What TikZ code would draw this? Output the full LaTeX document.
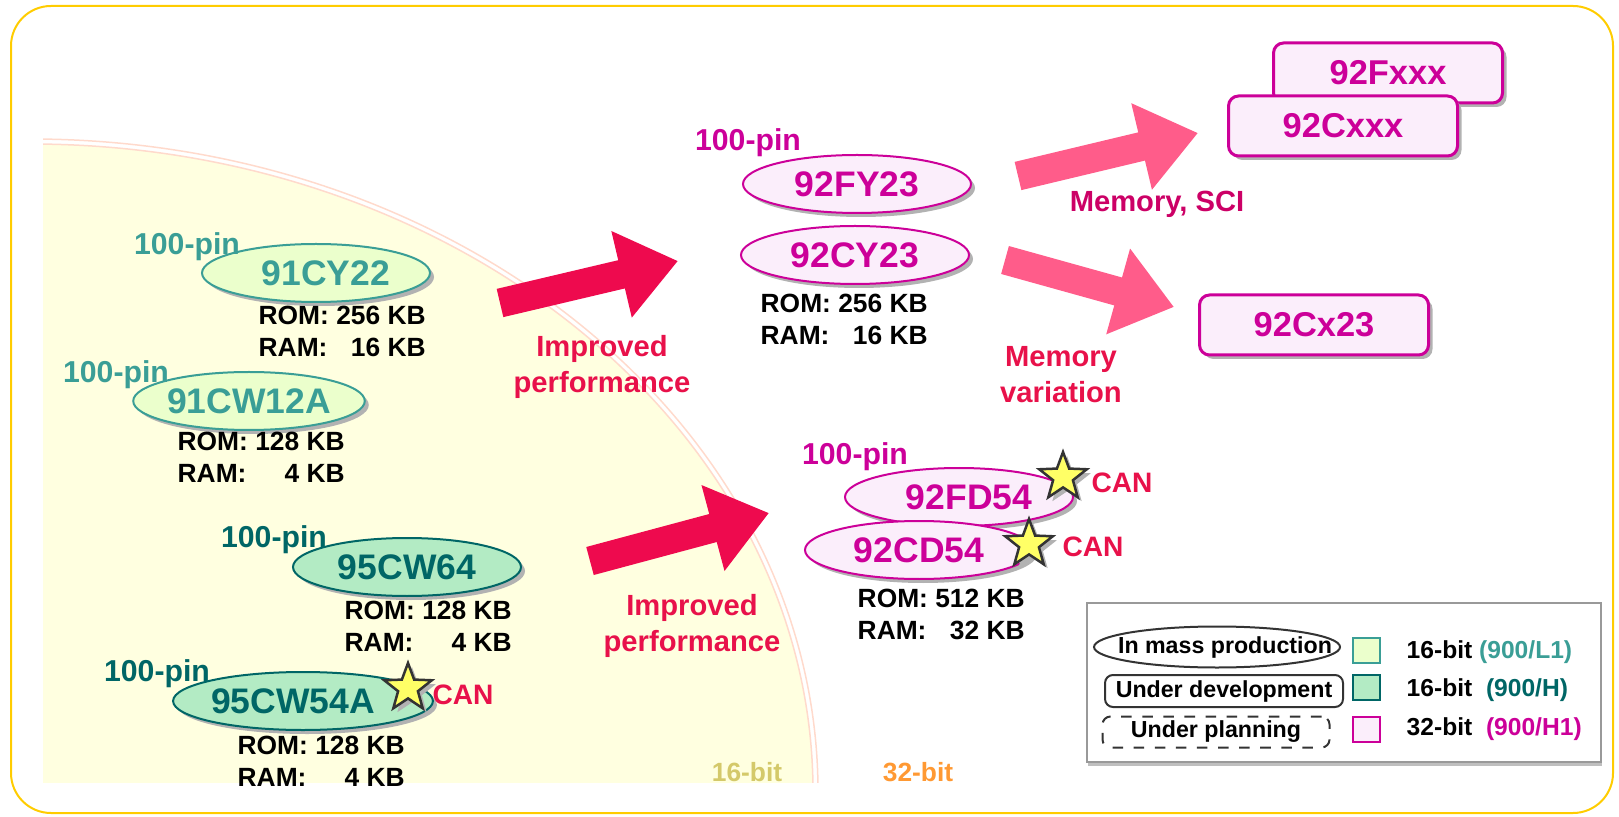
\documentclass[tikz,border=0pt]{standalone}
\usepackage{fontspec}
\setmainfont{Liberation Sans}
\usetikzlibrary{shapes.geometric,arrows.meta,shadows}

\definecolor{tealL}{HTML}{3A9E96}
\definecolor{tealH}{HTML}{006666}
\definecolor{magH}{HTML}{CC0099}
\definecolor{crim}{HTML}{E8114A}
\definecolor{arrowred}{HTML}{EE0A4E}
\definecolor{arrowpink}{HTML}{FF5C8A}
\definecolor{memmag}{HTML}{CC0066}
\definecolor{fillL}{HTML}{EBFFCC}
\definecolor{fillH}{HTML}{B3EBC4}
\definecolor{fillHone}{HTML}{FBEEFB}
\definecolor{area16}{HTML}{FFFFE0}
\definecolor{arcline}{HTML}{FFDACC}
\definecolor{frameyel}{HTML}{FFCC00}
\definecolor{bitsixteen}{HTML}{D4C96A}
\definecolor{bitthirtytwo}{HTML}{FF9933}
\definecolor{starfill}{HTML}{FFFF66}

\tikzset{
  shade off/.style={drop shadow={shadow xshift=0.4mm, shadow yshift=-0.4mm, fill=black!30, opacity=1}},
  chip/.style={ellipse, inner sep=0pt, minimum width=22.8mm, minimum height=5.8mm, line width=0.2mm,
    font=\fontsize{10.1}{12}\selectfont\bfseries, shade off},
  chipL/.style={chip, draw=tealL, fill=fillL, text=tealL},
  chipH/.style={chip, draw=tealH, fill=fillH, text=tealH},
  chipHone/.style={chip, draw=magH, fill=fillHone, text=magH},
  planbox/.style={rectangle, rounded corners=1mm, inner sep=0pt, minimum width=22.9mm, minimum height=6mm,
    draw=magH, line width=0.3mm, fill=fillHone, text=magH, font=\fontsize{9.8}{12}\selectfont\bfseries, shade off},
  pins/.style={inner sep=0pt, font=\fontsize{8.6}{10}\selectfont\bfseries},
  memo/.style={anchor=west, inner sep=0pt, font=\fontsize{7.5}{9}\selectfont\bfseries},
  note/.style={inner sep=0pt, align=center, text=crim, font=\fontsize{8.3}{10.2}\selectfont\bfseries},
  canstar/.style={star, star points=5, star point ratio=2.4, minimum size=5mm, inner sep=0pt,
    fill=starfill, draw=black!80, line width=0.25mm, shade off},
  cantext/.style={inner sep=0pt, text=crim, font=\fontsize{8}{10}\selectfont\bfseries},
  bigarrow/.style={line width=2.9mm, -{Triangle[length=5.8mm,width=8.5mm]}},
  legtext/.style={inner sep=0pt, font=\fontsize{6.6}{8}\selectfont\bfseries},
  legsq/.style={rectangle, inner sep=0pt, minimum width=2.7mm, minimum height=2.5mm, line width=0.2mm}
}

\newcommand{\memrows}[2]{\begin{tabular}{@{}l@{\ }r@{}}ROM: & #1\\RAM: & #2\end{tabular}}

\begin{document}
\begin{tikzpicture}[x=0.1mm, y=-0.1mm]
  \useasboundingbox (0,0) rectangle (1619,817);

  % 16-bit area
  \begin{scope}
    \clip (43,120) rectangle (830,782);
    \fill [area16] (30,792) ellipse [x radius=783, y radius=648];
    \draw [arcline, line width=0.15mm] (30,792) ellipse [x radius=783, y radius=648];
    \draw [arcline, line width=0.15mm] (30,792) ellipse [x radius=788, y radius=653];
  \end{scope}
  \node [inner sep=0pt, text=bitsixteen, font=\fontsize{7.5}{9}\selectfont\bfseries] (lbl16) at (747,772) {16-bit};
  \node [inner sep=0pt, text=bitthirtytwo, font=\fontsize{7.5}{9}\selectfont\bfseries] (lbl32) at (918,772) {32-bit};

  % outer frame
  \draw [frameyel, line width=0.2mm, rounded corners=4mm] (11,6) rectangle (1613,813);

  % arrows
  \coordinate (a1s) at (500,303);
  \coordinate (a1e) at (678,261);
  \coordinate (a2s) at (590,561);
  \coordinate (a2e) at (769,513);
  \coordinate (a3s) at (1018,176);
  \coordinate (a3e) at (1198,133);
  \coordinate (a4s) at (1005,260);
  \coordinate (a4e) at (1174,307);
  \draw [bigarrow, arrowred] (a1s) -- (a1e);
  \draw [bigarrow, arrowred] (a2s) -- (a2e);
  \draw [bigarrow, arrowpink] (a3s) -- (a3e);
  \draw [bigarrow, arrowpink] (a4s) -- (a4e);

  \node [note] (imp1) at (602,367) {Improved\\performance};
  \node [note] (imp2) at (692,626) {Improved\\performance};
  \node [note, text=memmag] (memsci) at (1157,204) {Memory, SCI};
  \node [note] (memvar) at (1061,375) {Memory\\variation};

  % 16-bit parts
  \node [chipL] (c91cy22) at (316,273) {\hspace*{2mm}91CY22};
  \node [pins, text=tealL] (pin1) at (187,247) {100-pin};
  \node [memo] (mem1) at (258,334) {\memrows{256 KB}{16 KB}};

  \node [chipL] (c91cw12a) at (249,401) {91CW12A};
  \node [pins, text=tealL] (pin2) at (116,375) {100-pin};
  \node [memo] (mem2) at (177,460) {\memrows{128 KB}{4 KB}};

  \node [chipH] (c95cw64) at (407,567) {95CW64};
  \node [pins, text=tealH] (pin3) at (274,540) {100-pin};
  \node [memo] (mem3) at (344,629) {\memrows{128 KB}{4 KB}};

  \node [chipH] (c95cw54a) at (303,701) {95CW54A\hspace*{2mm}};
  \node [pins, text=tealH] (pin4) at (157,674) {100-pin};
  \node [canstar] (star1) at (408,688) {};
  \node [cantext] (can1) at (463,695) {CAN};
  \node [memo] (mem4) at (237,764) {\memrows{128 KB}{4 KB}};

  % 32-bit parts
  \node [chipHone] (c92fy23) at (857,184) {92FY23};
  \node [pins, text=magH] (pin5) at (748,143) {100-pin};
  \node [chipHone] (c92cy23) at (855,255) {92CY23};
  \node [memo] (mem5) at (760,322) {\memrows{256 KB}{16 KB}};

  \node [chipHone] (c92fd54) at (959,497) {\hspace*{2mm}92FD54};
  \node [pins, text=magH] (pin6) at (855,457) {100-pin};
  \node [chipHone] (c92cd54) at (919,550) {92CD54};
  \node [canstar] (star2) at (1063,477) {};
  \node [cantext] (can2) at (1122,483) {CAN};
  \node [canstar] (star3) at (1029,544) {};
  \node [cantext] (can3) at (1093,547) {CAN};
  \node [memo] (mem6) at (857,617) {\memrows{512 KB}{32 KB}};

  \node [planbox] (b92fxxx) at (1388,73) {92Fxxx};
  \node [planbox] (b92cxxx) at (1343,126) {92Cxxx};
  \node [planbox] (b92cx23) at (1314,325) {92Cx23};

  % legend
  \draw [black!40, line width=0.2mm, fill=white,
    drop shadow={shadow xshift=0.1mm, shadow yshift=-0.4mm, fill=black!25, opacity=1}]
    (1087,603) rectangle (1601,762);
  \draw [black!80, line width=0.2mm] (1217,647) ellipse [x radius=123, y radius=20.5];
  \node [legtext] (lmass) at (1225,647) {In mass production};
  \node [legtext, draw=black!80, line width=0.2mm, rounded corners=0.8mm, minimum width=23.8mm, minimum height=3.2mm] (ldev) at (1224,691) {Under development};
  \node [legtext, draw=black!80, line width=0.2mm, dashed, rounded corners=0.8mm, minimum width=22.7mm, minimum height=3.1mm] (lplan) at (1216,732) {Under planning};
  \node [legsq, draw=tealL, fill=fillL] (sq1) at (1366,650) {};
  \node [legsq, draw=tealH, fill=fillH] (sq2) at (1366,687) {};
  \node [legsq, draw=magH, fill=fillHone] (sq3) at (1366,729) {};
  \node [legtext, anchor=west, font=\fontsize{7}{8}\selectfont\bfseries] (t1) at (1406,652) {16-bit \textcolor{tealL}{(900/L1)}};
  \node [legtext, anchor=west, font=\fontsize{7}{8}\selectfont\bfseries] (t2) at (1406,690) {16-bit \ \textcolor{tealH}{(900/H)}};
  \node [legtext, anchor=west, font=\fontsize{7}{8}\selectfont\bfseries] (t3) at (1406,729) {32-bit \ \textcolor{magH}{(900/H1)}};
\end{tikzpicture}
\end{document}
